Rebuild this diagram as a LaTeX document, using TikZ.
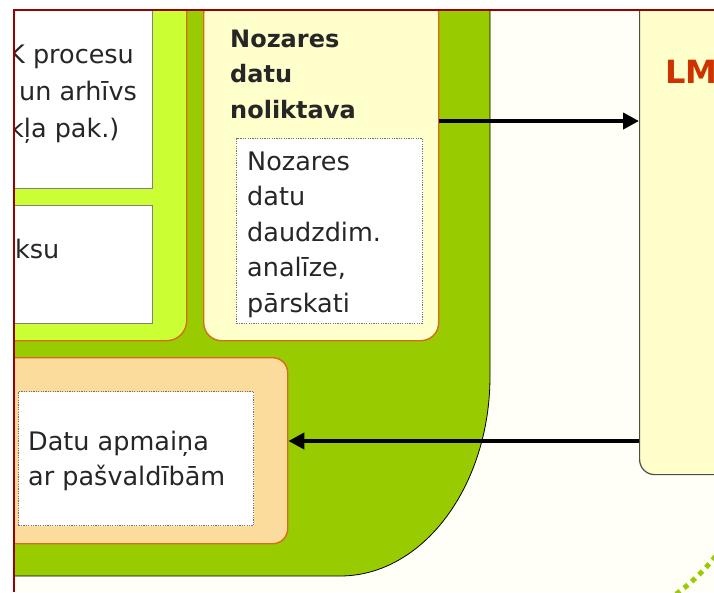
\documentclass[tikz,border=0pt]{standalone}
\usepackage{fontspec}
\setmainfont{DejaVu Sans}
\usepackage{xcolor}
\usepackage{tikz}
\usetikzlibrary{arrows.meta, positioning, calc}
\definecolor{leafgreen}{HTML}{99CC00}
\definecolor{limegreen}{HTML}{CCFF33}
\definecolor{creamy}{HTML}{FFFFCC}
\definecolor{peach}{HTML}{FCDC9C}
\definecolor{rustline}{HTML}{D86A1E}
\definecolor{framered}{HTML}{990000}
\definecolor{lmred}{HTML}{CC3300}
\definecolor{paper}{HTML}{FFFFF8}
\newcommand{\bodyfont}{\fontsize{25.5}{35.5}\selectfont}
\newcommand{\headfont}{\fontsize{24}{35.5}\selectfont\bfseries}

\begin{document}
\begin{tikzpicture}[x=1pt, y=-1pt,
  box/.style={rectangle, inner sep=0pt, anchor=north west},
  txt/.style={inner sep=0pt, anchor=base west, align=left, text=black!85, font=\bodyfont},
  flow/.style={line width=4pt, -{Triangle[length=16pt,width=16pt]}}]

\useasboundingbox (0,0) rectangle (714,592);
\fill[white] (0,0) rectangle (714,592);

\begin{scope}
\clip (14,10) rectangle (714,592);
\fill[paper] (14,10) rectangle (714,592);

% Green area
\fill[leafgreen, draw=black, line width=0.8pt] (-10,-10) -- (490,-10) -- (490,376)
  .. controls (490,486) and (423,576) .. (340,576) -- (-10,576) -- cycle;

% Left column
\node[box, minimum width=206pt, minimum height=370pt, rounded corners=20pt,
  fill=limegreen, draw=rustline, line width=1.4pt] (lime) at (-20,-30) {};
\node[box, minimum width=162pt, minimum height=198pt, fill=white, draw=gray,
  line width=1.4pt] (wtop) at (-10,-10) {};
\node[box, minimum width=162pt, minimum height=118pt, fill=white, draw=gray,
  line width=1.4pt] (wmid) at (-10,205) {};
\node[txt, font=\fontsize{25.5}{37}\selectfont] (arch) at (8,137)
  {K procesu\\\hspace*{11pt}un arhīvs\\\hspace*{1pt}kļa pak.)};
\node[txt] (ksu) at (15,258) {ksu};

% Data warehouse
\node[box, minimum width=235pt, minimum height=345pt, rounded corners=18pt,
  fill=creamy, draw=rustline, line width=1.4pt] (ndn) at (203,-5) {};
\node[txt, font=\headfont] (ndntitle) at (230,118) {Nozares\\datu\\noliktava};
\node[box, minimum width=186pt, minimum height=185pt, fill=white, draw=black!55,
  line width=1.2pt, dash pattern=on 1.2pt off 1.2pt] (ndnin) at (236,138) {};
\node[txt] (ndntext) at (247,312) {Nozares\\datu\\daudzdim.\\analīze,\\pārskati};

% Municipalities
\node[box, minimum width=307pt, minimum height=186pt, rounded corners=15pt,
  fill=peach, draw=rustline, line width=1.4pt] (pasv) at (-20,357) {};
\node[box, minimum width=235pt, minimum height=134pt, fill=white, draw=black!55,
  line width=1.2pt, dash pattern=on 1.2pt off 1.2pt] (pasvin) at (18,391) {};
\node[txt, font=\fontsize{25.5}{35}\selectfont] (pasvtext) at (28,485)
  {Datu apmaiņa\\ar pašvaldībām};

% LM
\node[box, minimum width=140pt, minimum height=494pt, rounded corners=15pt,
  fill=creamy, draw=black!70, line width=1.2pt] (lm) at (639,-20) {};
\node[txt, text=lmred, font=\fontsize{32}{38}\selectfont\bfseries] (lmtitle) at (665,83) {LM};

\draw[leafgreen, line width=5pt, dash pattern=on 5pt off 5pt]
  (668,600) .. controls (688,586) and (704,572) .. (722,548);

% Arrows
\coordinate (upr) at ($(ndn.north east)+(0,126)$);
\coordinate (lwr) at ($(pasv.north east)+(0,84)$);
\draw[flow] (upr) -- (upr -| lm.west);
\draw[flow] (lwr -| lm.west) -- (lwr);
\end{scope}

% Frame
\draw[framered, line width=2pt] (14,592) -- (14,10) -- (714,10);

\end{tikzpicture}
\end{document}
